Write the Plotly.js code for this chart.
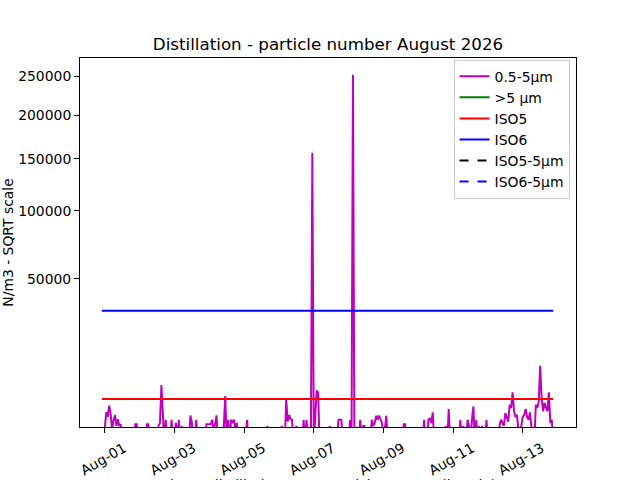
<!DOCTYPE html>
<html>
<head>
<meta charset="utf-8">
<script src="https://cdn.plot.ly/plotly-3.0.1.min.js"></script>
<style>
  html, body { margin: 0; padding: 0; background: #ffffff; }
  #chart { width: 640px; height: 480px; }
</style>
</head>
<body>
<div id="chart"></div>
<script>
// ---- Data ----
// Hours after 2026-08-01 00:00 for each reading of the 0.5-5µm series
const hoursFromAug01 = [
  -2, -1, 0, 1, 2, 3, 4, 5, 6, 7, 8, 9, 10, 11, 12,
  20, 21, 22, 23, 28, 29, 30, 31,
  36, 37, 38, 39, 40, 41, 42, 43, 45, 46, 47, 48, 49, 50, 51, 52, 53, 54,
  58, 59, 60, 61, 62, 63, 64,
  69, 70, 71, 72, 73, 74, 75, 76, 77, 78,
  80, 81, 82, 83, 84, 85, 86, 87, 88, 89, 90, 91, 92,
  97, 98, 99, 111, 112, 113,
  121, 122, 123, 124, 125, 126, 127, 128, 129, 130, 131, 132, 133,
  136, 137, 138, 139, 140,
  142, 143, 144, 145, 146, 147, 148,
  154, 155, 156, 160, 161, 162, 163, 164,
  168, 169, 170, 171, 172,
  175, 176, 177, 178, 179, 180,
  183, 184, 185, 186, 187, 188, 189, 190, 191, 192, 193, 194, 195,
  205, 206, 207, 208,
  219, 220, 221, 222, 223, 224, 225, 226, 227,
  234, 235, 236, 237, 238,
  244, 245, 246, 247, 248, 249, 250, 251, 252, 253, 254, 255, 256, 257, 258, 259, 260, 261, 262, 263, 264,
  271, 272, 273, 274, 275, 276, 277, 278, 279, 280, 281, 282, 283, 284, 285, 286,
  287, 288, 289, 290, 291, 292, 293, 294, 295, 296,
  297, 298, 299, 300, 301, 302, 303, 304, 305, 306, 307, 308, 309
];
const particles05to5 = [
  0, 0, 400, 1700, 1200, 2500, 1500, 300, 900, 1400, 500, 1000, 500, 600, 0,
  0, 600, 600, 0, 0, 600, 600, 0,
  0, 500, 700, 6100, 500, 0, 950, 0, 0, 950, 0, 0, 700, 0, 950, 0, 500, 0,
  0, 1350, 700, 0, 0, 950, 0,
  0, 600, 600, 600, 600, 950, 300, 600, 1350, 0,
  0, 0, 500, 4000, 0, 950, 0, 950, 700, 950, 300, 700, 0,
  0, 950, 0, 0, 500, 0,
  0, 500, 0, 0, 3400, 800, 1400, 1000, 950, 0, 0, 500, 0,
  0, 950, 0, 950, 0,
  0, 156400, 0, 1200, 5000, 4600, 0,
  0, 500, 0, 0, 950, 950, 950, 0,
  0, 950, 0, 252300, 0,
  0, 950, 0, 500, 500, 0,
  0, 950, 500, 700, 1320, 950, 1320, 950, 700, 0, 300, 1320, 0,
  0, 600, 600, 0,
  0, 950, 0, 0, 950, 1100, 700, 1670, 0,
  0, 500, 0, 2070, 0,
  0, 950, 0, 500, 0, 0, 950, 500, 0, 950, 2400, 0, 950, 0, 500, 0, 500, 0, 0, 950, 0,
  0, 500, 950, 700, 500, 1600, 1200, 800, 2640, 2200, 4650, 1800, 1200, 1400, 300, 0,
  500, 1200, 1400, 2070, 1200, 950, 1670, 500, 0, 0,
  2640, 2200, 3000, 10950, 3700, 1800, 2900, 2200, 1800, 4650, 700, 950, 0
];
// >5 µm series (stays below the visible range)
const limitHours = [-2, 309];
const particlesOver5 = [0, 0];
// Class limits, particles per m3
const iso5Limit = [3520, 3520];
const iso6Limit = [32300, 32300];
const iso5Limit5um = [29, 29];
const iso6Limit5um = [293, 293];
// Axis ticks
const yTickValues = [50000, 100000, 150000, 200000, 250000];
const yTickLabels = ["50000", "100000", "150000", "200000", "250000"];
const seriesNames = ["0.5-5µm", ">5 µm", "ISO5", "ISO6", "ISO5-5µm", "ISO6-5µm"];
const xAxisTitle = 'Time - distillation room particle counter (hourly)';

// ---- helpers ----
function toDate(h) {
  const ms = Date.UTC(2026, 7, 1) + h * 3600000;
  return new Date(ms).toISOString().slice(0, 19).replace('T', ' ');
}
const sq = v => Math.sqrt(v);

const FONT = "DejaVu Sans, Liberation Sans, sans-serif";
const limitX = limitHours.map(toDate);

function tr(x, yvals, name, color, dash) {
  return {
    type: 'scatter', mode: 'lines',
    x: x, y: yvals.map(sq), name: name,
    legendgroup: name,
    line: { color: color, width: 2, dash: dash || 'solid' },
    hoverinfo: 'skip'
  };
}

const traces = [
  tr(hoursFromAug01.map(toDate), particles05to5, seriesNames[0], '#bf00bf'),
  tr(limitX, particlesOver5, seriesNames[1], '#008000'),
  tr(limitX, iso5Limit, seriesNames[2], '#ff0000'),
  tr(limitX, iso6Limit, seriesNames[3], '#0000ff'),
  tr(limitX, iso5Limit5um, seriesNames[4], '#000000', 'dash'),
  tr(limitX, iso6Limit5um, seriesNames[5], '#0000ff', 'dash')
];

const layout = {
  width: 640, height: 480,
  paper_bgcolor: '#ffffff', plot_bgcolor: '#ffffff',
  margin: { l: 80, r: 64, t: 58, b: 53, pad: 0 },
  font: { family: FONT, size: 13.9, color: '#000000' },
  title: {
    text: 'Distillation - particle number August 2026',
    font: { family: FONT, size: 16.7, color: '#000000' },
    x: 0.5, xref: 'paper', y: 1 - 44 / 480, yref: 'container', yanchor: 'middle'
  },
  showlegend: true,
  legend: {
    x: 0.987, y: 1 - (60 - 58.3) / 369, xanchor: 'right', yanchor: 'top',
    bgcolor: 'rgba(255,255,255,0.8)', bordercolor: '#cccccc', borderwidth: 1,
    font: { family: FONT, size: 13.9, color: '#000000' },
    tracegroupgap: 0, itemwidth: 30
  },
  annotations: [{
    text: xAxisTitle, xref: 'paper', yref: 'paper',
    x: 0.5, y: -(475 - 427.3) / 369, xanchor: 'center', yanchor: 'top',
    showarrow: false, font: { family: FONT, size: 13.9, color: '#000000' }
  }],
  xaxis: {
    type: 'date',
    range: ['2026-07-31 06:54', '2026-08-14 12:42'],
    tick0: '2026-08-01', dtick: 2 * 86400000,
    tickformat: '%b-%d', tickangle: -30,
    ticklabelshift: 19, ticklabelstandoff: 2,
    ticks: 'outside', ticklen: 5, tickwidth: 1, tickcolor: '#000000',
    showline: true, linecolor: '#000000', linewidth: 1, mirror: true,
    showgrid: false, zeroline: false,
    tickfont: { family: FONT, size: 13.9, color: '#000000' },
    automargin: false
  },
  yaxis: {
    range: [20.9, 525.1],
    tickvals: yTickValues.map(sq), ticktext: yTickLabels,
    ticks: 'outside', ticklen: 5, tickwidth: 1, tickcolor: '#000000',
    showline: true, linecolor: '#000000', linewidth: 1, mirror: true,
    showgrid: false, zeroline: false,
    tickfont: { family: FONT, size: 13.9, color: '#000000' },
    title: { text: 'N/m3 - SQRT scale', font: { family: FONT, size: 13.9 }, standoff: 4 },
    automargin: false
  }
};

Plotly.newPlot('chart', traces, layout, { staticPlot: true, displayModeBar: false });
</script>
</body>
</html>
